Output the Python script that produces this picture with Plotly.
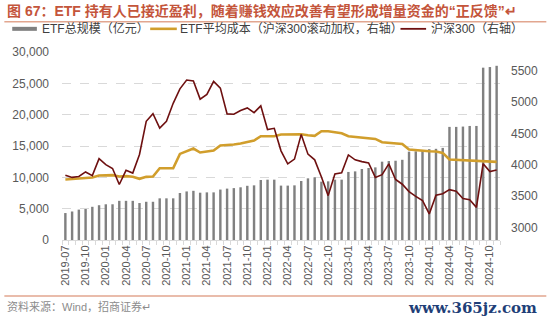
import plotly.graph_objects as go

# ---- data ----
months = []
y, m = 2019, 7
while (y, m) <= (2024, 11):
    months.append(f"{y}-{m:02d}")
    m += 1
    if m > 12:
        m = 1
        y += 1

etf_aum = [4300, 4550, 4850, 4950, 5300, 5550, 5700, 5700, 6250, 6250,
           6250, 5900, 6100, 6100, 6650, 6650, 6650, 7500, 7750, 7850,
           7550, 7600, 7600, 8050, 8200, 8280, 8410, 8650, 8720, 9580,
           9630, 9630, 8680, 8680, 8720, 9420, 9840, 10000, 9310, 9360,
           9630, 9630, 10860, 10950, 11330, 11490, 11590, 12500, 12600, 12650,
           12800, 14100, 14150, 14300, 14500, 14550, 14700, 18050, 18050, 18100,
           18200, 18200, 27500, 27600, 27800]

etf_cost = [3766, 3776, 3787, 3792, 3798, 3830, 3835, 3835, 3814, 3819,
            3808, 3776, 3808, 3814, 3946, 3946, 3946, 4174, 4222, 4260,
            4196, 4217, 4228, 4308, 4312, 4323, 4339, 4365, 4387, 4456,
            4456, 4456, 4483, 4488, 4488, 4488, 4472, 4461, 4535, 4535,
            4519, 4503, 4456, 4445, 4424, 4419, 4413, 4360, 4349, 4339,
            4333, 4244, 4233, 4228, 4217, 4212, 4190, 4085, 4079, 4074,
            4069, 4063, 4053, 4047, 4047]

csi300 = [3835, 3799, 3814, 3886, 3828, 4097, 4003, 3940, 3686, 3912,
          3868, 4164, 4695, 4816, 4587, 4695, 4981, 5212, 5352, 5336,
          5048, 5123, 5332, 5224, 4812, 4806, 4866, 4908, 4833, 4940,
          4563, 4582, 4223, 4016, 4091, 4485, 4170, 4079, 3804, 3508,
          3854, 3872, 4157, 4080, 4051, 4030, 3799, 3843, 4014, 3765,
          3690, 3573, 3497, 3431, 3216, 3516, 3538, 3604, 3580, 3462,
          3442, 3321, 4018, 3891, 3916]

names = ["ETF总规模（亿元）", "ETF平均成本（沪深300滚动加权，右轴）", "沪深300（右轴）"]
title_text = "图 67：ETF 持有人已接近盈利，随着赚钱效应改善有望形成增量资金的“正反馈”↵"
source_text = "资料来源：Wind，招商证券↵"

x = list(range(len(months)))
tick_idx = x[::3]
tick_txt = [months[i] for i in tick_idx]

BAR_C = "#808080"
GOLD = "#D19E2C"
RED = "#6E1010"
TXT = "#595959"
FONT = "Liberation Sans, Arial, Noto Sans CJK SC, sans-serif"

fig = go.Figure()
fig.add_trace(go.Bar(x=x, y=etf_aum, name=names[0], marker_color=BAR_C,
                     marker_line_width=0, yaxis="y", showlegend=False))
fig.add_trace(go.Scatter(x=x, y=etf_cost, name=names[1], mode="lines",
                         line=dict(color=GOLD, width=2.6), yaxis="y2", showlegend=False))
fig.add_trace(go.Scatter(x=x, y=csi300, name=names[2], mode="lines",
                         line=dict(color=RED, width=1.6), yaxis="y2", showlegend=False))

W, H = 550, 321
L, R, T, B = 58.5, 47, 51.7, 81
PW, PH = W - L - R, H - T - B

fig.update_layout(
    width=W, height=H,
    margin=dict(l=L, r=R, t=T, b=B, pad=0),
    paper_bgcolor="white", plot_bgcolor="white",
    bargap=0.64,
    font=dict(family=FONT, size=12, color=TXT),
    xaxis=dict(range=[-0.5, len(months) - 0.5], tickmode="array",
               tickvals=tick_idx, ticktext=tick_txt, tickangle=-90,
               tickfont=dict(size=11, color=TXT),
               showgrid=False, zeroline=False,
               showline=True, linecolor="#D9D9D9", linewidth=1,
               ticks="", ticklen=0,
               minor=dict(ticks="outside", tick0=-0.5, dtick=1, ticklen=4,
                          tickcolor="#D9D9D9", tickwidth=1, showgrid=False)),
    yaxis=dict(range=[0, 30000], dtick=5000, tickformat=",",
               tickfont=dict(size=12, color=TXT),
               showgrid=True, gridcolor="#D9D9D9", griddash="dash", gridwidth=1,
               zeroline=False, showline=False, ticks="", ticklabelstandoff=12),
    yaxis2=dict(range=[2800, 5800], dtick=500, overlaying="y", side="right",
                tickfont=dict(size=12, color=TXT), showgrid=False,
                zeroline=False, showline=False, ticks="", ticklabelstandoff=10),
)

def px(xp):
    return (xp - L) / PW

def py(yp):
    return (H - B - yp) / PH

shapes = []
annotations = []

# title
annotations.append(dict(xref="paper", yref="paper", x=px(1), y=py(11), xanchor="left",
                        yanchor="middle", text="<b>" + title_text + "</b>", showarrow=False,
                        font=dict(size=14, color="#C4553B",
                                  family="Liberation Sans, Noto Sans CJK SC, sans-serif")))
shapes.append(dict(type="line", xref="paper", yref="paper", x0=px(0), x1=px(W),
                   y0=py(21.5), y1=py(21.5), line=dict(color="#E2A68F", width=1.5)))

# legend
leg_y = py(28.5)
shapes.append(dict(type="rect", xref="paper", yref="paper", x0=px(8), x1=px(33),
                   y0=py(30.5), y1=py(26.5), fillcolor=BAR_C, line_width=0))
annotations.append(dict(xref="paper", yref="paper", x=px(36), y=leg_y, xanchor="left",
                        yanchor="middle", text=names[0], showarrow=False,
                        font=dict(size=12, color="#404040")))
shapes.append(dict(type="line", xref="paper", yref="paper", x0=px(148), x1=px(175),
                   y0=leg_y, y1=leg_y, line=dict(color=GOLD, width=2.6)))
annotations.append(dict(xref="paper", yref="paper", x=px(176), y=leg_y, xanchor="left",
                        yanchor="middle", text=names[1], showarrow=False,
                        font=dict(size=12, color="#404040")))
shapes.append(dict(type="line", xref="paper", yref="paper", x0=px(402), x1=px(428),
                   y0=leg_y, y1=leg_y, line=dict(color=RED, width=1.8)))
annotations.append(dict(xref="paper", yref="paper", x=px(431), y=leg_y, xanchor="left",
                        yanchor="middle", text=names[2], showarrow=False,
                        font=dict(size=12, color="#404040")))

# bottom line + source + watermark
shapes.append(dict(type="line", xref="paper", yref="paper", x0=px(0), x1=px(W),
                   y0=py(296), y1=py(296), line=dict(color="#E2A68F", width=1.5)))
annotations.append(dict(xref="paper", yref="paper", x=px(1), y=py(307), xanchor="left",
                        yanchor="middle", text=source_text, showarrow=False,
                        font=dict(size=11, color="#8C8C8C")))
annotations.append(dict(xref="paper", yref="paper", x=px(543), y=py(308), xanchor="right",
                        yanchor="middle", text="<b>www.365jz.com</b>", showarrow=False,
                        font=dict(size=15, color="#1F3F78",
                                  family="DejaVu Serif, Liberation Serif, serif")))

fig.update_layout(shapes=shapes, annotations=annotations)
fig.write_html("out.html")
